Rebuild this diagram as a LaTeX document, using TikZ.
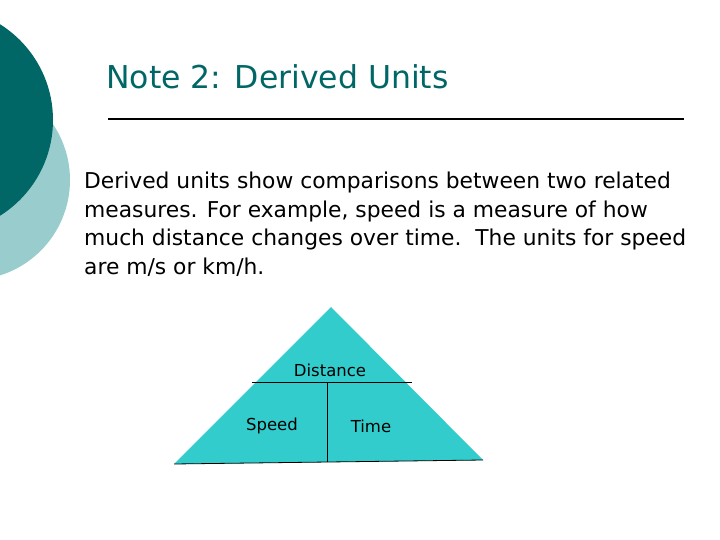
\documentclass[tikz,border=0pt]{standalone}
\usepackage{fontspec}
\setmainfont{DejaVu Sans}
\definecolor{dk}{RGB}{0,102,102}
\definecolor{lt}{RGB}{153,204,204}
\definecolor{tri}{RGB}{51,204,204}
\begin{document}
\begin{tikzpicture}[x=1pt,y=-1pt,
  lbl/.style={font=\fontsize{16.5}{18}\selectfont,inner sep=0pt}]
\useasboundingbox (0,0) rectangle (720,540);
\fill[white] (0,0) rectangle (720,540);
\begin{scope}
\clip (0,0) rectangle (720,540);
\fill[lt] (-30,180) circle (100);
\fill[dk] (-60,120) circle (113);
\end{scope}
\node[anchor=west,text=dk,font=\fontsize{31.5}{36}\selectfont,inner sep=0pt] (title) at (106,77) {Note 2: Derived Units};
\draw[line width=1.2pt] (108,119) coordinate (l1) -- (684,119) coordinate (l2);
\node[anchor=west,align=left,inner sep=0pt,font=\fontsize{21.8}{28.5}\selectfont] (body) at (84,224)
 {Derived units show comparisons between two related\\measures. For example, speed is a measure of how\\much distance changes over time.\ \ The units for speed\\are m/s or km/h.};
\fill[tri] (331,307) coordinate (apex) -- (483,460) coordinate (br) -- (174,464) coordinate (bl) -- cycle;
\draw[line width=0.8pt] (bl) -- (br);
\draw[line width=0.8pt] (252,382) coordinate (h1) -- (412,382) coordinate (h2);
\draw[line width=0.8pt] (327,382) coordinate (v1) -- (327,462) coordinate (v2);
\node[lbl] (dist) at (330,370) {Distance};
\node[lbl] (spd) at (272,426) {Speed};
\node[lbl] (time) at (371,426) {Time};
\end{tikzpicture}
\end{document}
